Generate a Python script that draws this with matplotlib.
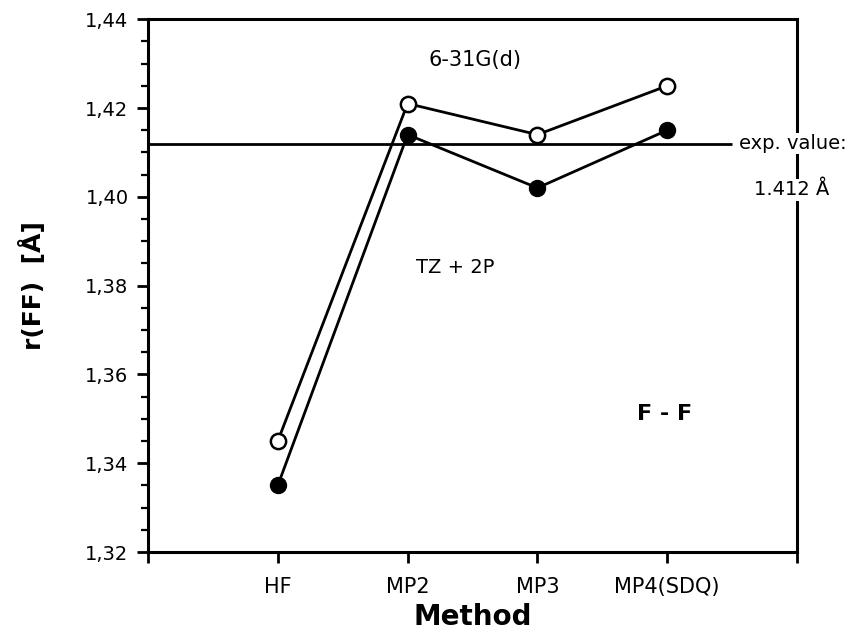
import matplotlib
matplotlib.use("Agg")
import matplotlib.pyplot as plt
from matplotlib.ticker import MultipleLocator, FuncFormatter

plt.rcParams["font.family"] = ["DejaVu Sans"]

#%% donnees
methods = ["HF", "MP2", "MP3", "MP4(SDQ)"]
r_631gd = [1.345, 1.421, 1.414, 1.425]   # cercles vides
r_tz2p = [1.335, 1.414, 1.402, 1.415]    # cercles pleins
exp_value = 1.412

#%% figure
fig = plt.figure(figsize=(8.64, 6.4), dpi=100)
ax = fig.add_axes([0.1713, 0.1375, 0.7512, 0.8325])

x = list(range(1, len(methods) + 1))
ax.plot(x, r_tz2p, color="black", lw=2, marker="o", ms=11.5,
        mfc="black", mec="black", zorder=3)
ax.plot(x, r_631gd, color="black", lw=2, marker="o", ms=11,
        mfc="white", mec="black", mew=1.8, zorder=4)

ax.hlines(exp_value, 0, 4.5, color="black", lw=2, zorder=2)

ax.set_xlim(0, 5)
ax.set_ylim(1.32, 1.44)

ax.set_xticks(range(0, 6))
ax.set_xticklabels([""] + methods + [""])
ax.yaxis.set_major_locator(MultipleLocator(0.02))
ax.yaxis.set_minor_locator(MultipleLocator(0.005))
ax.yaxis.set_major_formatter(FuncFormatter(lambda v, p: f"{v:.2f}".replace(".", ",")))

ax.tick_params(axis="both", which="major", direction="out", length=8, width=2,
               labelsize=14, pad=6)
ax.tick_params(axis="x", which="major", labelsize=15, pad=10)
ax.tick_params(axis="y", which="minor", direction="out", length=5, width=1.6)
for s in ax.spines.values():
    s.set_linewidth(2.2)

ax.set_xlabel("Method", fontsize=20, fontweight="bold", labelpad=4)
ax.set_ylabel("r(FF)  [Å]", fontsize=18, fontweight="bold", labelpad=28)

# annotations
ax.text(2.52, 1.4308, "6-31G(d)", fontsize=15, ha="center", va="center")
ax.text(2.37, 1.384, "TZ + 2P", fontsize=14, ha="center", va="center")
ax.text(3.98, 1.351, "F - F", fontsize=16, fontweight="bold", ha="center", va="center")
ax.text(4.55, exp_value, "exp. value:", fontsize=14, ha="left", va="center",
        clip_on=False, zorder=5,
        bbox=dict(facecolor="white", edgecolor="none", pad=1))
ax.text(4.67, 1.4016, "1.412 Å", fontsize=14, ha="left", va="center",
        clip_on=False, zorder=5,
        bbox=dict(facecolor="white", edgecolor="none", pad=1))

fig.savefig("out.png", dpi=100)
